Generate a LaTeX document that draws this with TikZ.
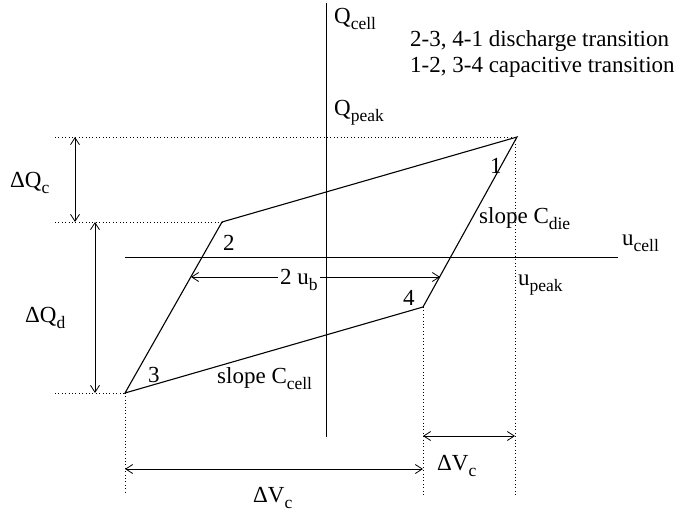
\documentclass[tikz,border=0pt]{standalone}
\usepackage{fontspec}
\setmainfont{Liberation Serif}
\usetikzlibrary{arrows.meta}
\newcommand{\pSub}[1]{\raisebox{-0.28em}{\fontsize{17.5}{19}\selectfont #1}}

\begin{document}
\begin{tikzpicture}[x=1pt,y=-1pt,
  txt/.style={anchor=base west, inner sep=0pt, font=\fontsize{23}{27}\selectfont},
  guide/.style={dash pattern=on 0.8pt off 2.6pt, line width=0.8pt},
  axis/.style={line width=1pt},
  dim/.style={<->, line width=0.8pt, >={Straight Barb[length=7pt,width=9pt]}}]
\useasboundingbox (0,0) rectangle (683,512);
% corners of the loop
\coordinate (p1) at (517,137);
\coordinate (p2) at (222,222);
\coordinate (p3) at (125,393);
\coordinate (p4) at (423,307);
% axes
\coordinate (qtop) at (326,3);
\coordinate (qbot) at (326,437);
\coordinate (uleft) at (125,257);
\coordinate (uright) at (618,257);
\draw[axis] (qtop) -- (qbot);
\draw[axis] (uleft) -- (uright);
% guides
\coordinate (g1) at (55,137);
\coordinate (g2) at (55,222);
\coordinate (g3) at (55,393);
\coordinate (g3b) at (125,494);
\coordinate (g4b) at (423,496);
\coordinate (g1b) at (515,496);
\draw[guide] (g1) -- (p1);
\draw[guide] (g2) -- (p2);
\draw[guide] (g3) -- (p3);
\draw[guide] (p3) -- (g3b);
\draw[guide] (p4) -- (g4b);
\draw[guide] (515,137) -- (g1b);
% loop
\draw[line width=1.1pt] (p1) -- (p2) -- (p3) -- (p4) -- cycle;
% dimensions
\coordinate (dqc1) at (75,137);
\coordinate (dqc2) at (75,222);
\coordinate (dqd1) at (95,222);
\coordinate (dqd2) at (95,393);
\coordinate (dv1) at (125,469);
\coordinate (dv2) at (423,469);
\coordinate (dw1) at (423,436);
\coordinate (dw2) at (515,436);
\coordinate (ub1) at (191,277);
\coordinate (ub2) at (440,277);
\draw[dim] (dqc1) -- (dqc2);
\draw[dim] (dqd1) -- (dqd2);
\draw[dim] (dv1) -- (dv2);
\draw[dim] (dw1) -- (dw2);
\draw[dim] (ub1) -- (ub2);
% labels
\node[txt] (qcell) at (334,23) {Q\pSub{cell}};
\node[txt] (legA) at (410,46) {2-3, 4-1 discharge transition};
\node[txt] (legB) at (410,72) {1-2, 3-4 capacitive transition};
\node[txt] (qpeak) at (334,115) {Q\pSub{peak}};
\node[txt] (n1) at (490,173) {1};
\node[txt] (n2) at (223,250) {2};
\node[txt] (n3) at (148,382) {3};
\node[txt] (n4) at (403,305) {4};
\node[txt] (cdie) at (479,223) {slope C\pSub{die}};
\node[txt] (ccell) at (217,383) {slope C\pSub{cell}};
\node[txt] (ucell) at (622,245) {u\pSub{cell}};
\node[txt] (upeak) at (518,285) {u\pSub{peak}};
\node[txt, fill=white, inner xsep=2pt] (ub) at (278,284) {2 u\pSub{b}};
\node[txt] (dqc) at (10,187) {ΔQ\pSub{c}};
\node[txt] (dqd) at (25,322) {ΔQ\pSub{d}};
\node[txt] (dvc) at (253,502) {ΔV\pSub{c}};
\node[txt] (dwc) at (437,470) {ΔV\pSub{c}};
\end{tikzpicture}
\end{document}
